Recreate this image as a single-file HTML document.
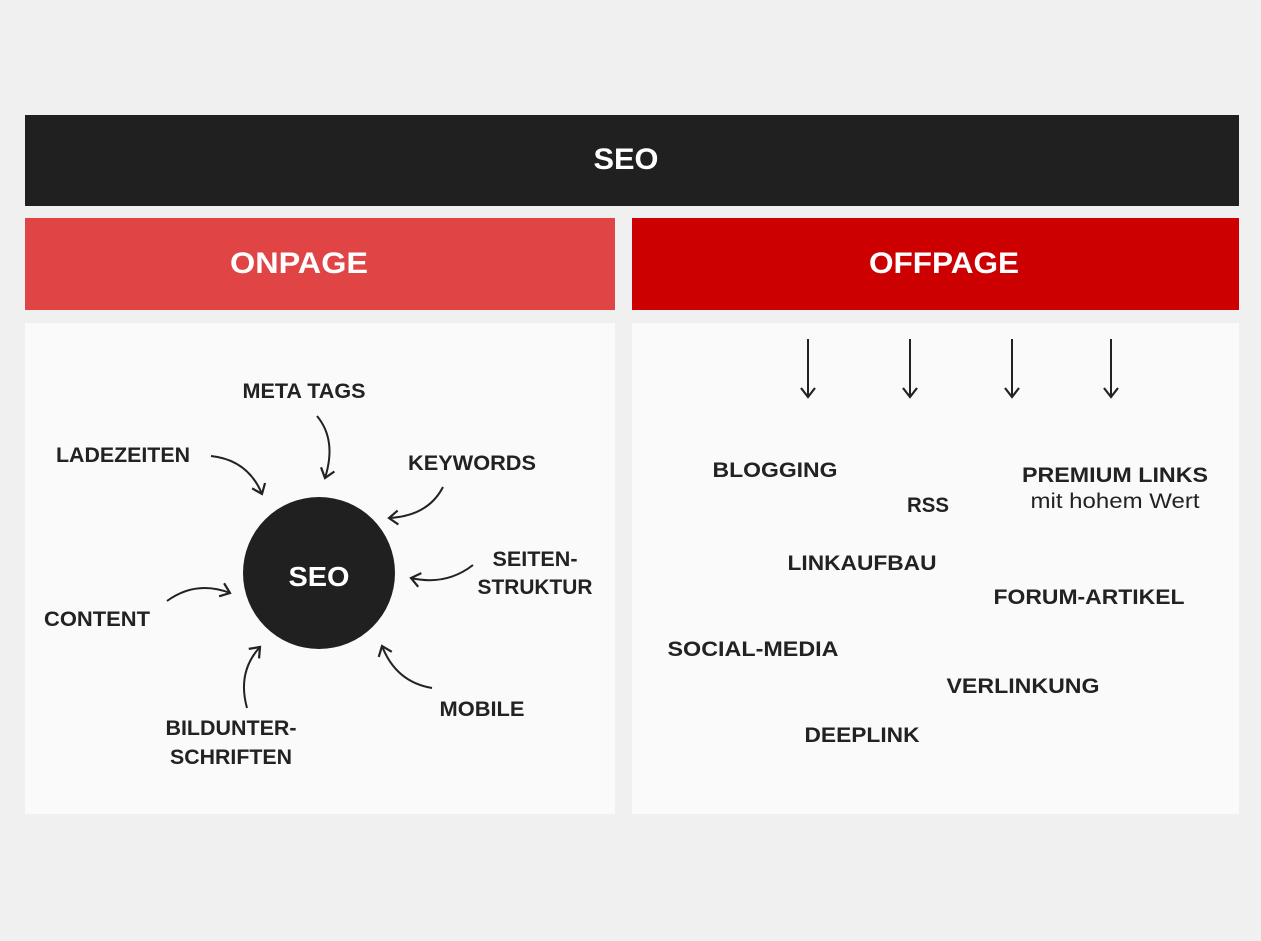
<!DOCTYPE html>
<html><head><meta charset="utf-8"><style>
html,body{margin:0;padding:0;background:#f0f0f0;}
svg{display:block;}
text{font-family:"Liberation Sans",sans-serif;font-weight:bold;fill:#222;text-anchor:middle;}
.h{fill:#fff;font-weight:900;}
</style></head><body>
<svg width="1261" height="941" viewBox="0 0 1261 941" xmlns="http://www.w3.org/2000/svg">
<defs>
<marker id="a" markerWidth="18" markerHeight="18" refX="12" refY="9" orient="auto" markerUnits="userSpaceOnUse">
<path d="M3,2 L12,9 L3,16" fill="none" stroke="#222" stroke-width="2.2"/>
</marker>
</defs>
<rect width="1261" height="941" fill="#f0f0f0"/>
<rect x="25" y="115" width="1214" height="91" fill="#202020"/>
<rect x="25" y="218" width="590" height="92" fill="#e04444"/>
<rect x="632" y="218" width="607" height="92" fill="#cc0000"/>
<rect x="25" y="323" width="590" height="491" fill="#fafafa"/>
<rect x="632" y="323" width="607" height="491" fill="#fafafa"/>
<text class="h" x="626" y="169" font-size="30" textLength="65" lengthAdjust="spacingAndGlyphs">SEO</text>
<text class="h" x="299" y="273" font-size="30" textLength="138" lengthAdjust="spacingAndGlyphs">ONPAGE</text>
<text class="h" x="944" y="273" font-size="30" textLength="150" lengthAdjust="spacingAndGlyphs">OFFPAGE</text>
<circle cx="319" cy="573" r="76" fill="#202020"/>
<text class="h" x="319" y="586" font-size="28" textLength="61" lengthAdjust="spacingAndGlyphs">SEO</text>
<g fill="none" stroke="#222" stroke-width="2" marker-end="url(#a)">
<path d="M211,456 Q248,460 262,494"/>
<path d="M317,416 Q337,440 325,478"/>
<path d="M443,487 Q428,516 389,518"/>
<path d="M473,565 Q446,586 411,578"/>
<path d="M167,601 Q196,580 230,593"/>
<path d="M247,708 Q237,672 260,647"/>
<path d="M432,688 Q396,682 382,646"/>
<path d="M808,339 V397"/>
<path d="M910,339 V397"/>
<path d="M1012,339 V397"/>
<path d="M1111,339 V397"/>
</g>
<g font-size="21">
<text x="304" y="398" textLength="123" lengthAdjust="spacingAndGlyphs">META TAGS</text>
<text x="123" y="462" textLength="134" lengthAdjust="spacingAndGlyphs">LADEZEITEN</text>
<text x="472" y="470" textLength="128" lengthAdjust="spacingAndGlyphs">KEYWORDS</text>
<text x="535" y="566" textLength="85" lengthAdjust="spacingAndGlyphs">SEITEN-</text>
<text x="535" y="594" textLength="115" lengthAdjust="spacingAndGlyphs">STRUKTUR</text>
<text x="97" y="626" textLength="106" lengthAdjust="spacingAndGlyphs">CONTENT</text>
<text x="231" y="735" textLength="131" lengthAdjust="spacingAndGlyphs">BILDUNTER-</text>
<text x="231" y="764" textLength="122" lengthAdjust="spacingAndGlyphs">SCHRIFTEN</text>
<text x="482" y="716" textLength="85" lengthAdjust="spacingAndGlyphs">MOBILE</text>
<text x="775" y="477" textLength="125" lengthAdjust="spacingAndGlyphs">BLOGGING</text>
<text x="928" y="512" textLength="42" lengthAdjust="spacingAndGlyphs">RSS</text>
<text x="1115" y="482" textLength="186" lengthAdjust="spacingAndGlyphs">PREMIUM LINKS</text>
<text x="1115" y="508" style="font-weight:normal" textLength="169" lengthAdjust="spacingAndGlyphs">mit hohem Wert</text>
<text x="862" y="570" textLength="149" lengthAdjust="spacingAndGlyphs">LINKAUFBAU</text>
<text x="1089" y="604" textLength="191" lengthAdjust="spacingAndGlyphs">FORUM-ARTIKEL</text>
<text x="753" y="656" textLength="171" lengthAdjust="spacingAndGlyphs">SOCIAL-MEDIA</text>
<text x="1023" y="693" textLength="153" lengthAdjust="spacingAndGlyphs">VERLINKUNG</text>
<text x="862" y="742" textLength="115" lengthAdjust="spacingAndGlyphs">DEEPLINK</text>
</g>
</svg>
</body></html>
